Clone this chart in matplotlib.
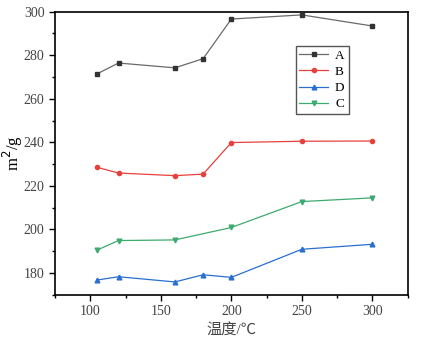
import matplotlib
matplotlib.use('Agg')
import matplotlib.pyplot as plt
from matplotlib.ticker import MultipleLocator

temp = [105, 120, 160, 180, 200, 250, 300]
temp_c = [105, 120, 160, 200, 250, 300]
a = [271.5, 276.4, 274.2, 278.4, 296.6, 298.5, 293.4]
b = [228.5, 225.9, 224.7, 225.4, 239.9, 240.5, 240.6]
d = [176.8, 178.3, 175.9, 179.2, 178.0, 190.9, 193.2]
c = [190.6, 194.9, 195.2, 200.9, 212.8, 214.5]

plt.rcParams['font.family'] = ['Liberation Serif', 'Noto Sans CJK SC']

fig = plt.figure(figsize=(4.3, 3.42), dpi=100)
ax = fig.add_axes([0.128, 0.138, 0.82, 0.828])

ax.plot(temp, a, color='#6a6a6a', marker='s', ms=3.0, mfc='#333333', mec='#333333', lw=0.9, label='A')
ax.plot(temp, b, color='#e8403c', marker='o', ms=3.0, lw=0.9, label='B')
ax.plot(temp, d, color='#2a6fd0', marker='^', ms=3.4, lw=0.9, label='D')
ax.plot(temp_c, c, color='#3daa6e', marker='v', ms=3.4, lw=0.9, label='C')

ax.set_xlim(75, 325)
ax.set_ylim(170, 300)
ax.xaxis.set_major_locator(MultipleLocator(50))
ax.xaxis.set_minor_locator(MultipleLocator(25))
ax.yaxis.set_major_locator(MultipleLocator(20))
ax.yaxis.set_minor_locator(MultipleLocator(10))
ax.tick_params(which='major', direction='out', length=4, width=1, labelsize=10, labelcolor='#444444')
ax.tick_params(which='minor', direction='out', length=2.5, width=1)
for s in ax.spines.values():
    s.set_linewidth(1.2)

ax.set_xlabel('温度/℃', fontsize=11, color='#444444', labelpad=3)
ax.set_ylabel('m$^2$/g', fontsize=12, labelpad=-1)

leg = ax.legend(loc='upper left', bbox_to_anchor=(0.682, 0.88), fontsize=9.5, fancybox=False,
                edgecolor='#555555', framealpha=1, handlelength=2.2, handletextpad=0.5,
                labelspacing=0.3, borderpad=0.3, borderaxespad=0)
leg.get_frame().set_linewidth(1.0)

fig.savefig('out.png', dpi=100)
